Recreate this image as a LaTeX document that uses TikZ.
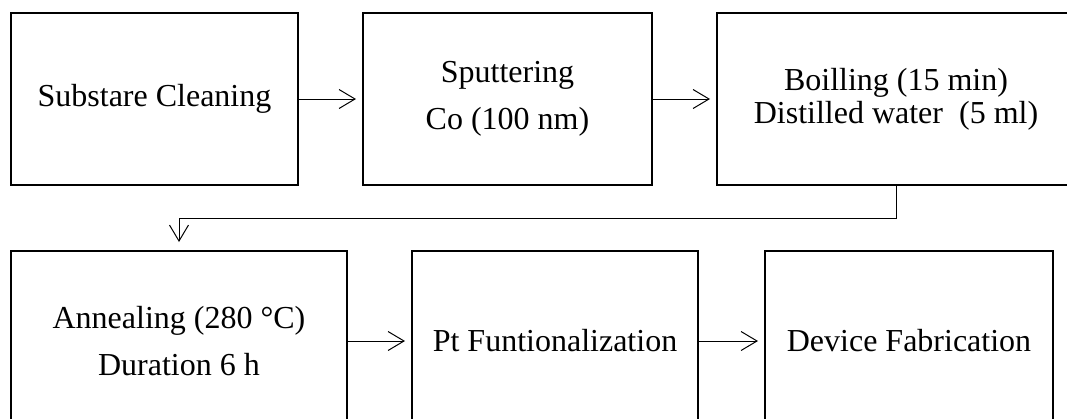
\documentclass[tikz,border=0pt]{standalone}
\usepackage{fontspec}
\setmainfont{Liberation Serif}
\usetikzlibrary{arrows.meta}
\tikzset{
  stepbox/.style={draw=black, line width=2pt, rectangle, align=center, inner sep=0pt,
    font=\fontsize{32}{47}\selectfont},
  flow/.style={draw=black, line width=1pt, -{Straight Barb[length=16pt,width=19pt,line width=1pt]},
    shorten >=6pt}
}
\begin{document}
\begin{tikzpicture}[x=1pt,y=-1pt]
  \clip (0,0) rectangle (1067,418);
  \fill[white] (0,0) rectangle (1067,418);
  % first row
  \node[stepbox, minimum width=287pt, minimum height=172pt] (b1) at (154.5,99) {Substare Cleaning};
  \node[stepbox, minimum width=289pt, minimum height=172pt] (b2) at (507.5,99) {Sputtering\\Co (100 nm)};
  \node[stepbox, minimum width=358pt, minimum height=172pt,
        font=\fontsize{32}{33}\selectfont] (b3) at (896,99) {Boilling (15 min)\\Distilled water~ (5 ml)};
  % second row
  \node[stepbox, minimum width=336pt, minimum height=180pt] (b4) at (179,341) {Annealing (280 °C)\\Duration 6 h};
  \node[stepbox, minimum width=286pt, minimum height=180pt] (b5) at (555,341) {Pt Funtionalization};
  \node[stepbox, minimum width=288pt, minimum height=180pt] (b6) at (909,341) {Device Fabrication};
  % connectors
  \draw[flow] (b1) -- (b2);
  \draw[flow] (b2) -- (b3);
  \draw[flow, shorten >=8pt] (b3.south) -- ++(0,32) -| (b4.north);
  \draw[flow] (b4) -- (b5);
  \draw[flow] (b5) -- (b6);
\end{tikzpicture}
\end{document}
